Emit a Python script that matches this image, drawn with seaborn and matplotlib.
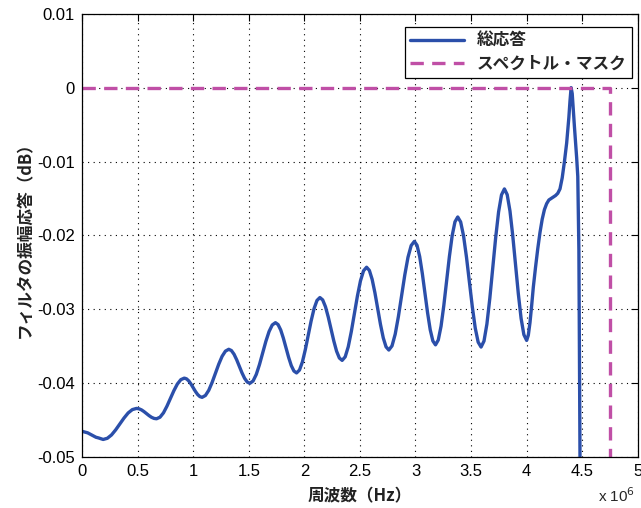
import matplotlib
matplotlib.use('Agg')
import matplotlib.pyplot as plt
import numpy as np
import pandas as pd
import seaborn as sns
from matplotlib.ticker import FuncFormatter

# curve (frequency in MHz, response in dB)
freq_mhz = [
    0.0, 0.025, 0.05, 0.075, 0.10, 0.125, 0.15, 0.17,
    0.19, 0.2275, 0.265, 0.3025, 0.34, 0.3775, 0.415, 0.4525,
    0.49, 0.5125, 0.535, 0.5575, 0.58, 0.6025, 0.625, 0.6475,
    0.67, 0.70125, 0.7325, 0.76375, 0.795, 0.82625, 0.8575, 0.88875,
    0.92, 0.94, 0.96, 0.98, 1.00, 1.02, 1.04, 1.06,
    1.08, 1.11, 1.14, 1.17, 1.20, 1.23, 1.26, 1.29,
    1.32, 1.34375, 1.3675, 1.39125, 1.415, 1.43875, 1.4625, 1.48625,
    1.51, 1.53875, 1.5675, 1.59625, 1.625, 1.65375, 1.6825, 1.71125,
    1.74, 1.76375, 1.7875, 1.81125, 1.835, 1.85875, 1.8825, 1.90625,
    1.93, 1.95625, 1.9825, 2.00875, 2.035, 2.06125, 2.0875, 2.11375,
    2.14, 2.165, 2.19, 2.215, 2.24, 2.265, 2.29, 2.315,
    2.34, 2.3675, 2.395, 2.4225, 2.45, 2.4775, 2.505, 2.5325,
    2.56, 2.585, 2.61, 2.635, 2.66, 2.685, 2.71, 2.735,
    2.76, 2.78875, 2.8175, 2.84625, 2.875, 2.90375, 2.9325, 2.96125,
    2.99, 3.01375, 3.0375, 3.06125, 3.085, 3.10875, 3.1325, 3.15625,
    3.18, 3.205, 3.23, 3.255, 3.28, 3.305, 3.33, 3.355,
    3.38, 3.40625, 3.4325, 3.45875, 3.485, 3.51125, 3.5375, 3.56375,
    3.59, 3.61625, 3.6425, 3.66875, 3.695, 3.72125, 3.7475, 3.77375,
    3.80, 3.825, 3.85, 3.875, 3.90, 3.925, 3.95, 3.975,
    4.00, 4.015, 4.03, 4.045, 4.06, 4.08, 4.10, 4.12, 4.14, 4.16, 4.18, 4.20,
    4.22, 4.24, 4.26, 4.28, 4.30, 4.32, 4.34, 4.36, 4.38, 4.39, 4.40, 4.41,
    4.43, 4.45, 4.46, 4.47, 4.48, 4.49]
resp_db = [
    -0.0465, -0.0466, -0.0467, -0.0469, -0.0471, -0.0473, -0.0474, -0.0475,
    -0.0476, -0.04744, -0.04699, -0.04630, -0.0455, -0.04470, -0.04401, -0.04356,
    -0.0434, -0.04345, -0.0436, -0.04383, -0.0441, -0.04437, -0.0446, -0.04475,
    -0.0448, -0.04459, -0.04400, -0.04310, -0.04205, -0.04100, -0.04010, -0.03951,
    -0.0393, -0.03940, -0.03968, -0.04010, -0.0406, -0.04110, -0.04152, -0.04180,
    -0.0419, -0.04165, -0.04095, -0.03989, -0.03865, -0.03741, -0.03635, -0.03565,
    -0.0354, -0.03557, -0.03607, -0.03682, -0.0377, -0.03858, -0.03933, -0.03983,
    -0.0400, -0.03969, -0.03880, -0.03747, -0.0359, -0.03433, -0.03300, -0.03211,
    -0.0318, -0.03206, -0.03279, -0.03390, -0.0352, -0.03650, -0.03761, -0.03834,
    -0.0386, -0.03821, -0.03711, -0.03545, -0.0335, -0.03155, -0.02989, -0.02879,
    -0.0284, -0.02872, -0.02964, -0.03103, -0.03265, -0.03427, -0.03566, -0.03658,
    -0.0369, -0.03642, -0.03506, -0.03301, -0.0306, -0.02819, -0.02614, -0.02478,
    -0.0243, -0.02473, -0.02594, -0.02776, -0.0299, -0.03204, -0.03386, -0.03507,
    -0.0355, -0.03494, -0.03335, -0.03096, -0.02815, -0.02534, -0.02295, -0.02136,
    -0.0208, -0.02133, -0.02284, -0.02513, -0.0278, -0.03047, -0.03276, -0.03427,
    -0.0348, -0.03414, -0.03227, -0.02945, -0.02615, -0.02285, -0.02003, -0.01816,
    -0.0175, -0.01817, -0.02007, -0.02294, -0.0263, -0.02966, -0.03253, -0.03443,
    -0.0351, -0.03429, -0.03198, -0.02849, -0.0244, -0.02031, -0.01682, -0.01451,
    -0.0137, -0.01448, -0.01669, -0.02003, -0.02395, -0.02787, -0.03121, -0.03342,
    -0.0342, -0.0335, -0.0318, -0.0295, -0.0270, -0.0243, -0.0218, -0.0196, -0.0178, -0.0165, -0.0157, -0.0152,
    -0.0150, -0.0148, -0.0146, -0.0143, -0.0137, -0.0122, -0.0100, -0.0075, -0.0040, -0.0018, 0.0000, -0.0008,
    -0.0053, -0.0095, -0.0120, -0.0220, -0.0500, -0.0600]

mask_mhz = [0.0, 4.75, 4.75]
mask_db = [0.0, 0.0, -0.05]

x_ticks = [0, 0.5, 1, 1.5, 2, 2.5, 3, 3.5, 4, 4.5, 5]
y_ticks = [0.01, 0, -0.01, -0.02, -0.03, -0.04, -0.05]

df = pd.DataFrame({'freq': np.array(freq_mhz) * 1e6, 'resp': resp_db})
mask = pd.DataFrame({'freq': np.array(mask_mhz) * 1e6, 'resp': mask_db})

sns.set_style('white')
plt.rcParams['font.family'] = ['Liberation Sans', 'Noto Sans CJK JP']
plt.rcParams['axes.unicode_minus'] = False

fig = plt.figure(figsize=(6.41, 5.08), dpi=100)
ax = fig.add_axes([0.128, 0.100, 0.867, 0.873])

sns.lineplot(data=df, x='freq', y='resp', sort=False, estimator=None, ax=ax,
             color='#2B4FAA', linewidth=2.4, label='総応答')
sns.lineplot(data=mask, x='freq', y='resp', sort=False, estimator=None, ax=ax,
             color='#C04FA6', linewidth=2.4, dashes=False, label='スペクトル・マスク')
ax.lines[1].set_linestyle((0, (4, 2.5)))

ax.set_xlim(0, 5e6)
ax.set_ylim(-0.05, 0.01)
ax.set_xticks([t * 1e6 for t in x_ticks])
ax.set_yticks(y_ticks)
ax.xaxis.set_major_formatter(FuncFormatter(lambda v, p: f'{v / 1e6:g}'))
ax.yaxis.set_major_formatter(FuncFormatter(lambda v, p: '0' if abs(v) < 1e-9 else f'{v:.2f}'))

ax.grid(True, color='black', linestyle=(0, (1, 4)), linewidth=0.8)
ax.tick_params(direction='in', top=True, right=True, length=5, width=0.8,
               labelsize=12, colors='black', pad=5)
for s in ax.spines.values():
    s.set_color('black')
    s.set_linewidth(0.9)

ax.set_xlabel('周波数（Hz）', fontsize=12, fontweight='bold',
              family=['Noto Sans CJK JP'], labelpad=6, color='#222222')
ax.set_ylabel('フィルタの振幅応答（dB）', fontsize=12, fontweight='bold',
              family=['Noto Sans CJK JP'], labelpad=2, color='#222222')
ax.text(0.928, -0.086, 'x 10$^6$', transform=ax.transAxes, fontsize=11,
        ha='left', va='center')

leg = ax.legend(loc='upper right', bbox_to_anchor=(0.989, 0.971), borderaxespad=0,
                prop={'family': 'Noto Sans CJK JP', 'weight': 'bold', 'size': 12},
                frameon=True, fancybox=False, edgecolor='black', framealpha=1,
                handlelength=3.2, borderpad=0.3, labelspacing=0.3)
leg.get_frame().set_linewidth(0.9)

fig.savefig('out.png', dpi=100)
